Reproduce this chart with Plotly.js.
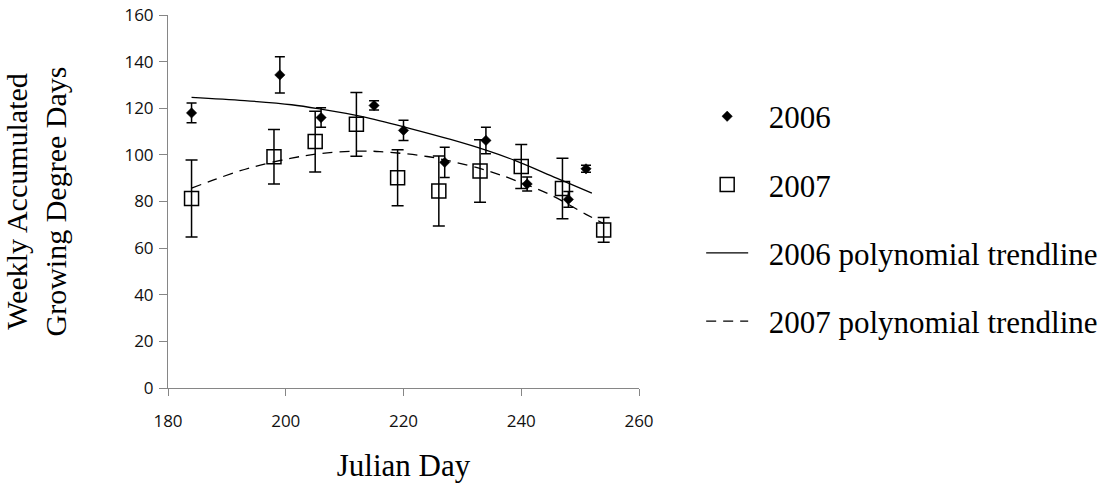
<!DOCTYPE html>
<html>
<head>
<meta charset="utf-8">
<script src="https://cdn.plot.ly/plotly-3.0.1.min.js"></script>
<style>html,body{margin:0;padding:0;background:#fff;}#chart{width:1115px;height:485px;}</style>
</head>
<body>
<div id="chart"></div>
<script>
// Observed weekly GDD, 2006
var days2006 = [184, 199, 206, 215, 220, 227, 234, 241, 248, 251];
var gdd2006  = [118, 134.3, 116, 121.2, 110.5, 96.8, 106.2, 87.5, 80.9, 94];
var err2006  = [4.2, 7.8, 4.2, 2, 4.3, 6.5, 5.7, 3, 3.4, 1.5];

// Observed weekly GDD, 2007
var days2007 = [184, 198, 205, 212, 219, 226, 233, 240, 247, 254];
var gdd2007  = [81.3, 99.2, 105.7, 113.1, 90.2, 84.5, 93.1, 95, 85.6, 67.8];
var err2007  = [16.5, 11.7, 13, 13.7, 12, 15, 13.4, 9.4, 13, 5.3];

// Trendlines
var trendDays2006 = [184, 193, 201, 206, 213, 221, 228, 234, 239, 246, 252];
var trend2006     = [124.7, 123.3, 121.5, 119.6, 116.4, 111.4, 106.6, 102, 97.5, 90, 83.6];
var trendDays2007 = [184, 188, 194, 201, 206, 212, 216, 224, 231, 235, 238, 245, 251, 254];
var trend2007     = [85.7, 89.5, 94.5, 98.6, 100.6, 101.6, 101.4, 99.3, 95.5, 92.6, 90, 82.8, 74.5, 70.5];

// Axis ticks
var xTicks = [180, 200, 220, 240, 260];
var yTicks = [0, 20, 40, 60, 80, 100, 120, 140, 160];

var serif = 'Liberation Serif, Times New Roman, serif';
var sans = 'Open Sans, Liberation Sans, sans-serif';
var pad = '\u00a0\u00a0';

var traces = [
  {
    x: days2006, y: gdd2006, name: pad + '2006', type: 'scatter', mode: 'markers',
    legendgroup: 'a',
    marker: {symbol: 'diamond', size: 8, color: '#000', line: {color: '#000', width: 0.5}},
    error_y: {type: 'data', array: err2006, visible: true, color: '#000', thickness: 1.5, width: 5}
  },
  {
    x: days2007, y: gdd2007, name: pad + '2007', type: 'scatter', mode: 'markers',
    legendgroup: 'b',
    marker: {symbol: 'square-open', size: 14, color: '#000', line: {color: '#000', width: 1.5}},
    error_y: {type: 'data', array: err2007, visible: true, color: '#000', thickness: 1.5, width: 6}
  },
  {
    x: trendDays2006, y: trend2006, name: pad + '2006 polynomial trendline', type: 'scatter', mode: 'lines',
    legendgroup: 'c',
    line: {color: '#000', width: 1.3, shape: 'spline'}
  },
  {
    x: trendDays2007, y: trend2007, name: pad + '2007 polynomial trendline', type: 'scatter', mode: 'lines',
    legendgroup: 'd',
    line: {color: '#000', width: 1.3, shape: 'spline', dash: '10px,7px'}
  }
];

var layout = {
  width: 1115, height: 485,
  margin: {l: 168, r: 474, t: 15, b: 97, pad: 0},
  paper_bgcolor: '#fff', plot_bgcolor: '#fff',
  showlegend: true,
  legend: {
    x: 1.132, xanchor: 'left', y: 0.8, yanchor: 'top',
    font: {family: serif, size: 31, color: '#000'},
    tracegroupgap: 25, itemwidth: 42,
    bgcolor: 'rgba(0,0,0,0)'
  },
  xaxis: {
    range: [180, 260], tickvals: xTicks, ticktext: xTicks.map(String),
    showgrid: false, zeroline: false, showline: true, linecolor: '#868686', linewidth: 1,
    ticks: 'outside', ticklen: 7, tickcolor: '#868686', tickwidth: 1,
    ticklabelstandoff: 11,
    tickfont: {family: sans, size: 17, color: '#111'},
    title: {text: 'Julian Day', font: {family: serif, size: 31, color: '#000'}, standoff: 22}
  },
  yaxis: {
    range: [0, 160], tickvals: yTicks, ticktext: yTicks.map(String),
    showgrid: false, zeroline: false, showline: true, linecolor: '#868686', linewidth: 1,
    ticks: 'outside', ticklen: 8, tickcolor: '#868686', tickwidth: 1,
    ticklabelstandoff: 2,
    tickfont: {family: sans, size: 17, color: '#111'},
    title: {text: 'Weekly Accumulated<br>Growing Degree Days', font: {family: serif, size: 30, color: '#000'}, standoff: 48}
  }
};

Plotly.newPlot('chart', traces, layout, {displayModeBar: false, staticPlot: true});
</script>
</body>
</html>
